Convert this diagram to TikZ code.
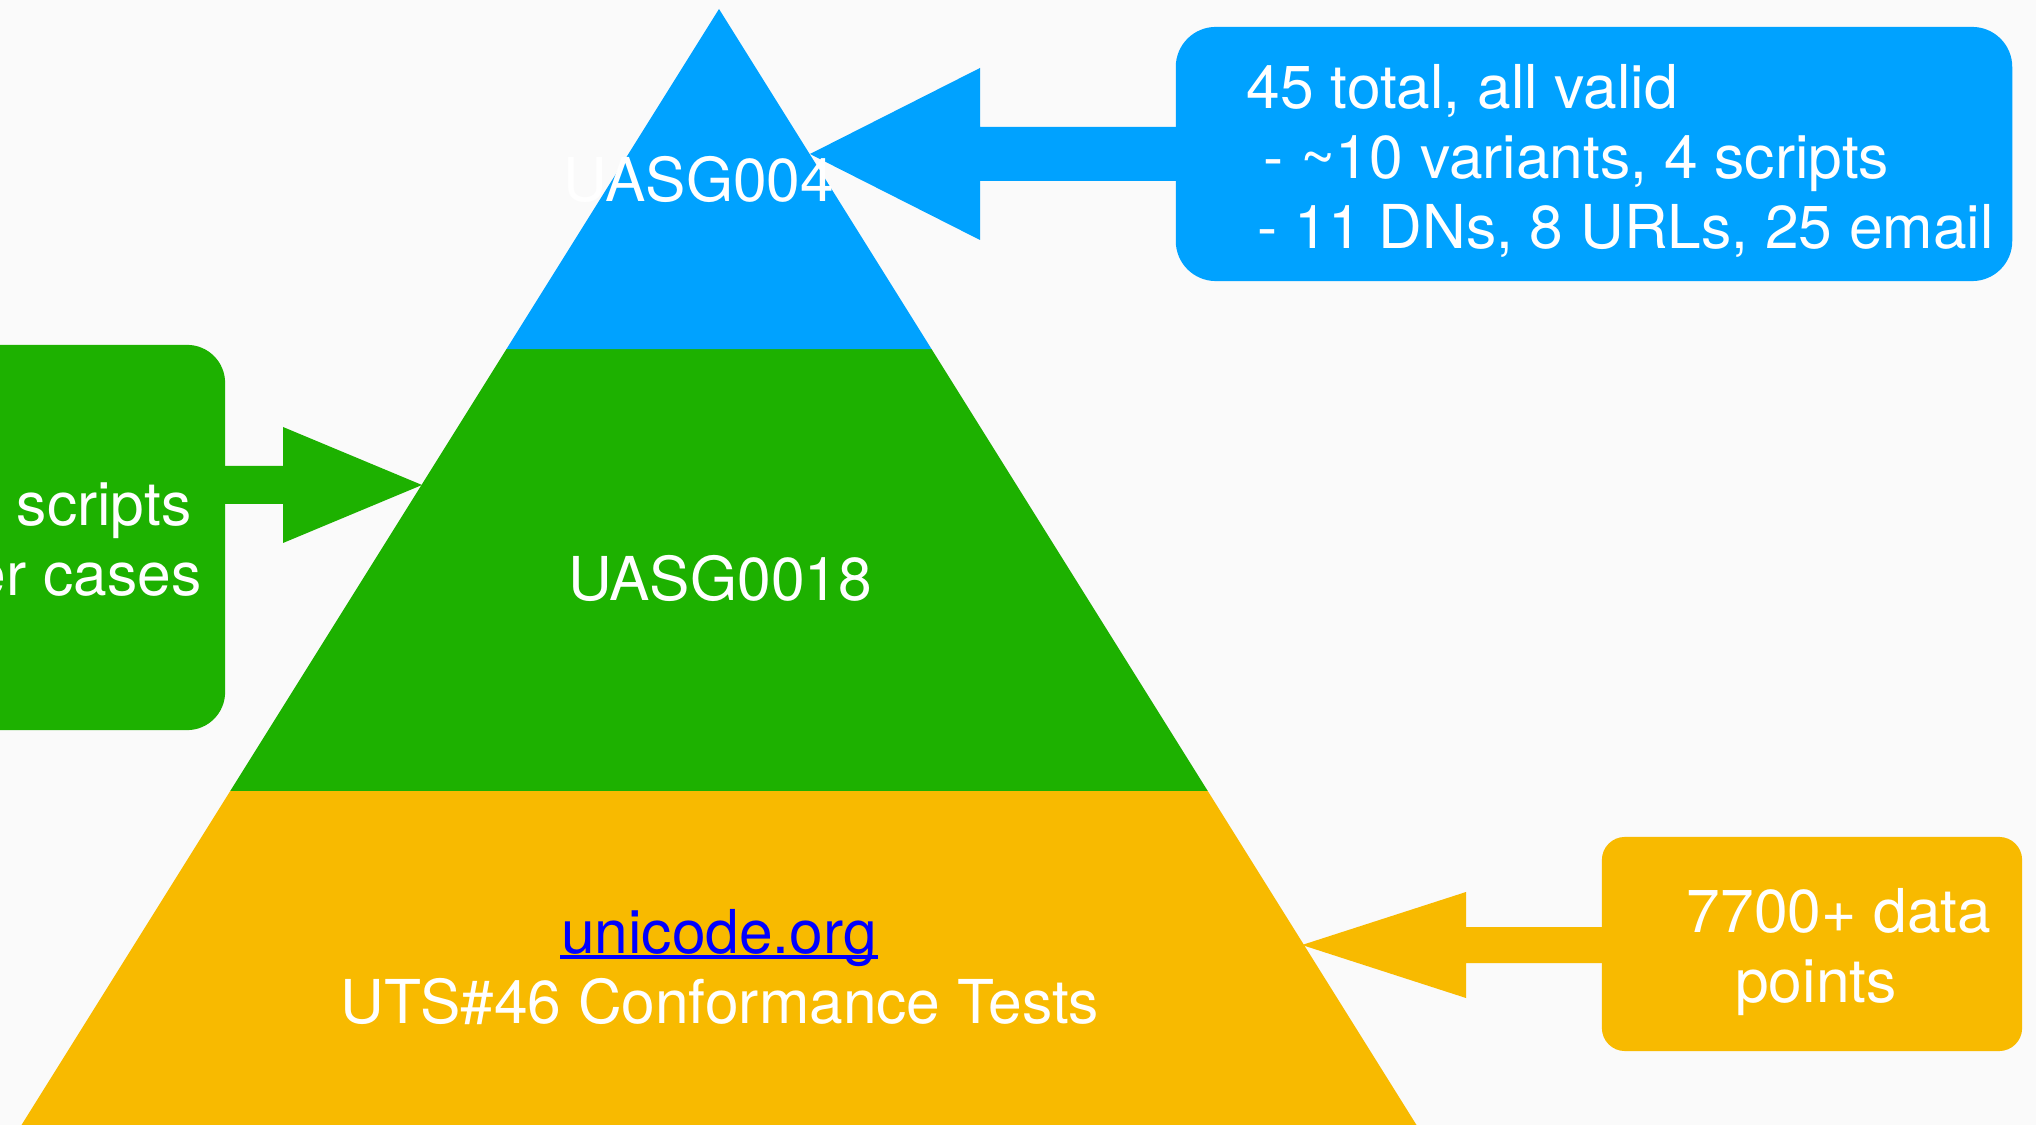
\documentclass[tikz,border=0pt]{standalone}
\usepackage{fontspec}
\setmainfont{TeX Gyre Heros}
\usetikzlibrary{calc}
\definecolor{skyblue}{HTML}{00A2FF}
\definecolor{leafgreen}{HTML}{1DB100}
\definecolor{amber}{HTML}{F8BA00}
\definecolor{paper}{HTML}{FAFAFA}
\begin{document}
\begin{tikzpicture}[x=0.01cm, y=-0.01cm,
		words/.style={text=white, inner sep=0pt, font=\fontsize{17.2}{19.9}\selectfont},
		card/.style={inner sep=0pt, rounded corners=#1}]
		\useasboundingbox (0,0) rectangle (2036,1125);
		\clip (0,0) rectangle (2036,1125);
		\fill[paper] (0,0) rectangle (2036,1125);

		\coordinate (apex) at (719,9);
		\coordinate (baseL) at (21.5,1125);
		\coordinate (baseR) at (1416.5,1125);
		\coordinate (midL) at ($(apex)!0.7007!(baseL)$);
		\coordinate (midR) at ($(apex)!0.7007!(baseR)$);
		\coordinate (topL) at ($(apex)!0.3047!(baseL)$);
		\coordinate (topR) at ($(apex)!0.3047!(baseR)$);

		\fill[amber] (midL) -- (midR) -- (baseR) -- (baseL) -- cycle;
		\fill[leafgreen] (topL) -- (topR) -- (midR) -- (midL) -- cycle;
		\fill[skyblue] (apex) -- (topR) -- (topL) -- cycle;

		\node[card=0.4cm, fill=skyblue, minimum width=8.36cm, minimum height=2.54cm] (boxA) at (1594,154) {};
		\node[card=0.38cm, fill=leafgreen, minimum width=4.4cm, minimum height=3.85cm] (boxB) at (5,537.5) {};
		\node[card=0.23cm, fill=amber, minimum width=4.2cm, minimum height=2.14cm] (boxC) at (1812,944) {};

		\coordinate (tipA) at (810,154);
		\coordinate (tipB) at (422,485);
		\coordinate (tipC) at (1302,945);

		\fill[skyblue] (tipA) -- ++(170,-86) -- ++(0,59) -- ($(boxA.west |- tipA)+(1,-27)$)
		  -- ($(boxA.west |- tipA)+(1,27)$) -- ($(tipA)+(170,27)$) -- ++(0,59) -- cycle;
		\fill[leafgreen] (tipB) -- ++(-139,-58) -- ++(0,39) -- ($(boxB.east |- tipB)+(-1,-19)$)
		  -- ($(boxB.east |- tipB)+(-1,19)$) -- ($(tipB)+(-139,19)$) -- ++(0,39) -- cycle;
		\fill[amber] (tipC) -- ++(164,-53) -- ++(0,35) -- ($(boxC.west |- tipC)+(1,-18)$)
		  -- ($(boxC.west |- tipC)+(1,18)$) -- ($(tipC)+(164,18)$) -- ++(0,35) -- cycle;

		\node[words, anchor=base] (lvlA) at (699,202) {UASG004};
		\node[words, anchor=base] (lvlB) at (720,601) {UASG0018};
		\node[words, anchor=base, text=blue] (site) at (719,953) {unicode.org};
		\draw[blue, line width=1.1pt] ($(site.base west)+(0,4)$) -- ($(site.base east)+(0,4)$);
		\node[words, anchor=base] (uts) at (720,1023) {UTS\#46 Conformance Tests};

		\node[words, align=left, anchor=north west] (noteA) at (1246,64)
		  {45 total, all valid\\
		   \hspace*{0.17cm}- \textasciitilde10 variants, 4 scripts\\
		   \hspace*{0.11cm}- 11 DNs, 8 URLs, 25 email};
		\node[words, align=right, anchor=north east] (noteB) at (202,482)
		  {scripts\hspace*{0.1cm}\\er cases};
		\node[words, align=center, anchor=north] (noteC) at (1839,888)
		  {7700+ data\\points\hspace*{0.46cm}};
	       \end{tikzpicture}
\end{document}
